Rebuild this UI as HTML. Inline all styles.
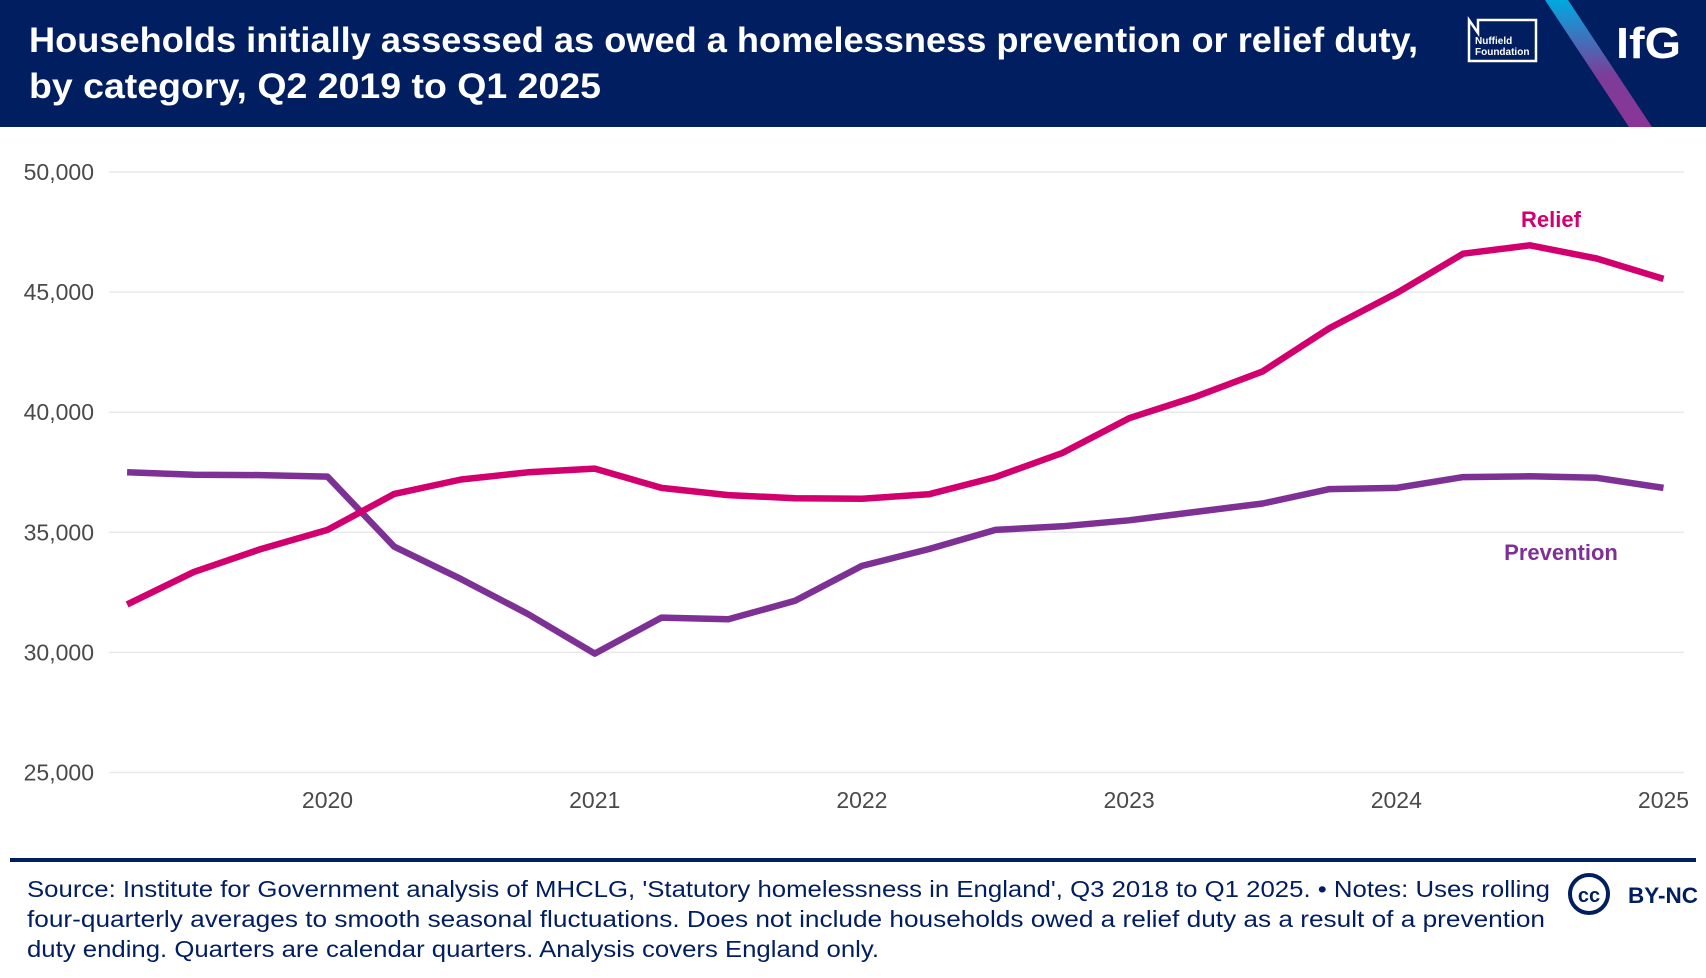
<!DOCTYPE html>
<html><head><meta charset="utf-8"><style>
html,body{margin:0;padding:0;background:#fff}
svg{display:block;font-family:"Liberation Sans",sans-serif}
</style></head><body>
<svg id="chart" width="1706" height="978" viewBox="0 0 1706 978">
<defs><linearGradient id="stripe" x1="0" y1="0" x2="0" y2="1"><stop offset="0" stop-color="#00a9e0"/><stop offset="0.6" stop-color="#7d3c98"/><stop offset="1" stop-color="#8a3597"/></linearGradient></defs>
<rect x="0" y="0" width="1706" height="127" fill="#001e60"/>
<text x="29" y="52" font-size="35" font-weight="bold" fill="#fff" textLength="1389" lengthAdjust="spacingAndGlyphs">Households initially assessed as owed a homelessness prevention or relief duty,</text>
<text x="29" y="98" font-size="35" font-weight="bold" fill="#fff" textLength="572" lengthAdjust="spacingAndGlyphs">by category, Q2 2019 to Q1 2025</text>
<g>
<path d="M1469 20 L1478 33 L1478 20 L1536 20 L1536 61 L1469 61 Z" fill="none" stroke="#fff" stroke-width="2.5"/>
<text x="1475" y="44" font-size="10" font-weight="bold" fill="#fff">Nuffield</text>
<text x="1475" y="55" font-size="10" font-weight="bold" fill="#fff">Foundation</text>
</g>
<polygon points="1545,0 1568,0 1652,127 1629,127" fill="url(#stripe)"/>
<text x="1616" y="58" font-size="44" font-weight="bold" fill="#fff" textLength="65" lengthAdjust="spacingAndGlyphs">IfG</text>
<g id="grid"></g><g id="yl"></g><g id="xl"></g><g id="lines"></g>
<text x="1551" y="227" font-size="22" font-weight="bold" fill="#d1006e" text-anchor="middle">Relief</text>
<text x="1561" y="560" font-size="22" font-weight="bold" fill="#7e3194" text-anchor="middle">Prevention</text>
<rect x="10" y="858" width="1686" height="4" fill="#001e60"/>
<g font-size="23" fill="#001e60">
<text x="27" y="897" textLength="1523" lengthAdjust="spacingAndGlyphs">Source: Institute for Government analysis of MHCLG, 'Statutory homelessness in England', Q3 2018 to Q1 2025. • Notes: Uses rolling</text>
<text x="27" y="927" textLength="1518" lengthAdjust="spacingAndGlyphs">four-quarterly averages to smooth seasonal fluctuations. Does not include households owed a relief duty as a result of a prevention</text>
<text x="27" y="957" textLength="852" lengthAdjust="spacingAndGlyphs">duty ending. Quarters are calendar quarters. Analysis covers England only.</text>
</g>
<g>
<circle cx="1589" cy="894" r="19" fill="none" stroke="#001e60" stroke-width="4"/>
<text x="1589" y="902" font-size="20" font-weight="bold" fill="#001e60" text-anchor="middle">cc</text>
<text x="1628" y="903" font-size="22" font-weight="bold" fill="#001e60" textLength="70" lengthAdjust="spacingAndGlyphs">BY-NC</text>
</g>
</svg>
<script>
const quarters=[2019.25,2019.5,2019.75,2020,2020.25,2020.5,2020.75,2021,2021.25,2021.5,2021.75,2022,2022.25,2022.5,2022.75,2023,2023.25,2023.5,2023.75,2024,2024.25,2024.5,2024.75,2025];
const relief=[32000,33350,34300,35100,36600,37200,37500,37650,36850,36550,36420,36400,36580,37300,38300,39750,40650,41700,43500,44950,46600,46950,46400,45550];
const prevention=[37500,37400,37380,37320,34400,33050,31600,29950,31450,31380,32150,33600,34300,35100,35250,35500,35850,36200,36800,36850,37300,37330,37270,36850];
const yTicks=[25000,30000,35000,40000,45000,50000];
const yTickLabels=["25,000","30,000","35,000","40,000","45,000","50,000"];
const xTicks=[2020,2021,2022,2023,2024,2025];
const xTickLabels=["2020","2021","2022","2023","2024","2025"];
const NS="http://www.w3.org/2000/svg";
const x=v=>327.5+(v-2020)*267.2;
const y=v=>772.5-(v-25000)*(600.5/25000);
function mk(tag,attrs,parent){const e=document.createElementNS(NS,tag);for(const k in attrs)e.setAttribute(k,attrs[k]);document.getElementById(parent).appendChild(e);return e;}
yTicks.forEach((t,i)=>{
 const g=mk('line',{x1:109,x2:1684,y1:y(t),y2:y(t),stroke:'#e9e9e9','stroke-width':1.5},'grid');
 
 
 const l=mk('text',{x:94,y:y(t)+8,'font-size':23,fill:'#4a4a4a','text-anchor':'end'},'yl');
 l.textContent=yTickLabels[i];
 
 
});
xTicks.forEach((t,i)=>{
 const l=mk('text',{x:x(t),y:808,'font-size':23,fill:'#4a4a4a','text-anchor':'middle'},'xl');
 l.textContent=xTickLabels[i];
 
 
});
function line(vals,color,name){
 const d=vals.map((v,i)=>(i?'L':'M')+x(quarters[i]).toFixed(1)+' '+y(v).toFixed(1)).join(' ');
 const p=mk('path',{d:d,fill:'none',stroke:color,'stroke-width':6.5,'stroke-linejoin':'round'},'lines');
 
 
}
line(prevention,'#7e3194','prevention-line');
line(relief,'#d1006e','relief-line');
</script>
</body></html>
